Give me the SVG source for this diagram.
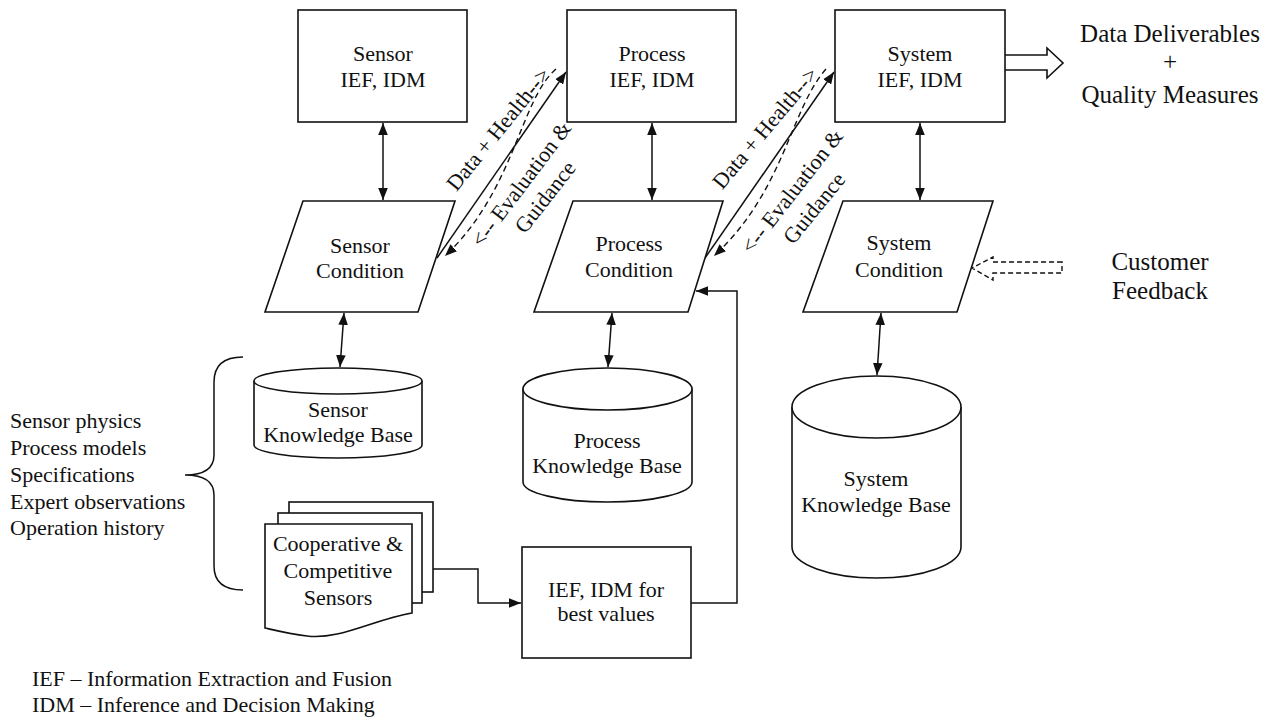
<svg xmlns="http://www.w3.org/2000/svg" width="1280" height="718" viewBox="0 0 1280 718">
<defs>
<style>
text{font-family:"Liberation Serif","Times New Roman",serif;fill:#111;}
.t{font-size:22px;text-anchor:middle;}
.r{font-size:25px;text-anchor:middle;}
.l{font-size:22px;}
.d{font-size:22px;text-anchor:middle;dominant-baseline:central;}
.s{fill:#fff;stroke:#111;stroke-width:1.6;}
.c{fill:none;stroke:#111;stroke-width:1.5;}
.dash{fill:none;stroke:#111;stroke-width:1.4;stroke-dasharray:6,4;}
</style>
<marker id="ah" viewBox="0 0 10 8" refX="10" refY="4" markerWidth="12" markerHeight="10" markerUnits="userSpaceOnUse" orient="auto-start-reverse">
<path d="M0,0 L10,4 L0,8 Z" fill="#111"/>
</marker>
</defs>
<rect width="1280" height="718" fill="#fff"/>

<g id="connectors">
<line class="c" x1="383" y1="123" x2="383" y2="200" marker-start="url(#ah)" marker-end="url(#ah)"/>
<line class="c" x1="652" y1="123" x2="652" y2="200" marker-start="url(#ah)" marker-end="url(#ah)"/>
<line class="c" x1="920" y1="123" x2="920" y2="200" marker-start="url(#ah)" marker-end="url(#ah)"/>
<line class="c" x1="344" y1="313" x2="340" y2="367" marker-start="url(#ah)" marker-end="url(#ah)"/>
<line class="c" x1="612" y1="313" x2="608" y2="367" marker-start="url(#ah)" marker-end="url(#ah)"/>
<line class="c" x1="881" y1="313" x2="877" y2="375" marker-start="url(#ah)" marker-end="url(#ah)"/>
<line class="c" x1="437" y1="258" x2="566" y2="72" marker-end="url(#ah)"/>
<path class="dash" d="M556,69 C520,100 515,190 445,256" marker-end="url(#ah)"/>
<line class="c" x1="705" y1="258" x2="834" y2="72" marker-end="url(#ah)"/>
<path class="dash" d="M826,69 C790,110 785,190 714,256" marker-end="url(#ah)"/>
<path class="c" d="M433,569 H478 V603 H521" marker-end="url(#ah)"/>
<path class="c" d="M691,603 H737 V291 H696" marker-end="url(#ah)"/>
<path class="s" d="M1005,55 H1047 V48 L1063,63 L1047,78 V70 H1005"/>
<path class="dash" style="stroke-dasharray:5,3" d="M1062,262 H993 V257 L972,268 L993,280 V273 H1062 Z"/>
<path class="c" d="M243,357 Q214,357 214,382 V455 Q214,475 185,475 Q214,475 214,495 V566 Q214,590 243,590"/>
</g>

<g id="labels">
<text class="d" transform="translate(498,129) rotate(-51)">Data + Health--&gt;</text>
<text class="d" transform="translate(521,184) rotate(-53)">&lt;-- Evaluation &amp;</text>
<text class="d" transform="translate(545,197) rotate(-52)">Guidance</text>
<text class="d" transform="translate(765,128) rotate(-50)">Data + Health--&gt;</text>
<text class="d" transform="translate(792,191) rotate(-52)">&lt;-- Evaluation &amp;</text>
<text class="d" transform="translate(814,208) rotate(-51)">Guidance</text>
</g>

<g id="sensor-box">
<rect class="s" x="298" y="10" width="169" height="112"/>
<text class="t" x="383" y="61">Sensor</text>
<text class="t" x="383" y="87">IEF, IDM</text>
</g>
<g id="process-box">
<rect class="s" x="567" y="10" width="169" height="112"/>
<text class="t" x="652" y="61">Process</text>
<text class="t" x="652" y="87">IEF, IDM</text>
</g>
<g id="system-box">
<rect class="s" x="835" y="10" width="170" height="112"/>
<text class="t" x="920" y="61">System</text>
<text class="t" x="920" y="87">IEF, IDM</text>
</g>

<g id="sensor-condition">
<polygon class="s" points="303,201 455,201 418,312 265,312"/>
<text class="t" x="360" y="253">Sensor</text>
<text class="t" x="360" y="278">Condition</text>
</g>
<g id="process-condition">
<polygon class="s" points="573,201 723,201 688,312 534,312"/>
<text class="t" x="629" y="251">Process</text>
<text class="t" x="629" y="277">Condition</text>
</g>
<g id="system-condition">
<polygon class="s" points="843,201 993,201 957,312 803,312"/>
<text class="t" x="899" y="250">System</text>
<text class="t" x="899" y="277">Condition</text>
</g>

<g id="sensor-kb">
<path class="s" d="M254,381 V445 A84,13 0 0 0 422,445 V381"/>
<ellipse class="s" cx="338" cy="381" rx="84" ry="13"/>
<text class="t" x="338" y="417">Sensor</text>
<text class="t" x="338" y="442">Knowledge Base</text>
</g>
<g id="process-kb">
<path class="s" d="M523,389 V482 A84.5,20 0 0 0 692,482 V389"/>
<ellipse class="s" cx="607.5" cy="389" rx="84.5" ry="21"/>
<text class="t" x="607" y="448">Process</text>
<text class="t" x="607" y="473">Knowledge Base</text>
</g>
<g id="system-kb">
<path class="s" d="M792,407 V547 A84.5,31 0 0 0 961,547 V407"/>
<ellipse class="s" cx="876.5" cy="407" rx="84.5" ry="31"/>
<text class="t" x="876" y="486">System</text>
<text class="t" x="876" y="512">Knowledge Base</text>
</g>

<g id="sensors-doc">
<rect class="s" x="289" y="502" width="144" height="90"/>
<rect class="s" x="278" y="513" width="144" height="90"/>
<path class="s" d="M265,524 H412 V613 C372,620 340,640 307,636 C290,634 278,631 265,628 Z"/>
<text class="t" x="338" y="551">Cooperative &amp;</text>
<text class="t" x="338" y="578">Competitive</text>
<text class="t" x="338" y="605">Sensors</text>
</g>

<g id="best-values">
<rect class="s" x="522" y="547" width="169" height="111"/>
<text class="t" x="606" y="597">IEF, IDM for</text>
<text class="t" x="606" y="621">best values</text>
</g>

<g id="sources">
<text class="l" x="10" y="428">Sensor physics</text>
<text class="l" x="10" y="455">Process models</text>
<text class="l" x="10" y="482">Specifications</text>
<text class="l" x="10" y="509">Expert observations</text>
<text class="l" x="10" y="535">Operation history</text>
</g>

<g id="deliverables">
<text class="r" x="1170" y="42">Data Deliverables</text>
<text class="r" x="1170" y="70">+</text>
<text class="r" x="1170" y="103">Quality Measures</text>
</g>

<g id="customer">
<text class="r" x="1160" y="270">Customer</text>
<text class="r" x="1160" y="299">Feedback</text>
</g>

<g id="legend">
<text class="l" x="32" y="686">IEF – Information Extraction and Fusion</text>
<text class="l" x="32" y="712">IDM – Inference and Decision Making</text>
</g>
</svg>
